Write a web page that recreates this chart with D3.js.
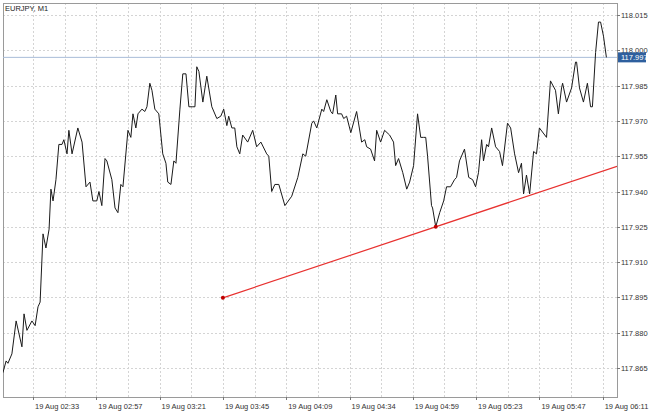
<!DOCTYPE html>
<html>
<head>
<meta charset="utf-8">
<script src="https://cdn.jsdelivr.net/npm/d3@7"></script>
<style>
  body { margin: 0; background: #fff; }
  text { font-family: "Liberation Sans", Arial, sans-serif; }
</style>
</head>
<body>
<div id="chart"></div>
<script>
// minutes counted from 19 Aug 02:33 (bar positions), and close prices
const minutes = [-11.4,-10.2,-9.5,-8.0,-6.4,-4.2,-3.4,-2.3,-0.4,0.8,1.9,2.7,3.8,4.9,6.1,6.8,7.6,8.7,9.8,11.0,11.7,12.9,13.6,14.8,17.0,18.6,20.1,21.6,22.7,24.2,25.0,26.1,27.3,28.0,29.9,31.1,32.2,33.3,34.1,36.0,37.1,37.9,39.0,39.8,41.3,42.4,43.2,44.3,45.1,46.2,47.7,49.2,50.4,51.1,52.3,53.4,54.2,55.7,56.8,58.0,59.1,60.6,61.4,62.1,62.9,64.4,65.9,67.8,69.7,71.2,72.3,73.5,74.2,75.4,76.5,77.3,78.4,79.5,81.4,83.3,84.8,86.4,88.6,89.4,90.5,91.7,93.2,95.5,98.1,100.4,102.3,103.4,105.7,106.4,107.6,109.5,110.2,111.4,112.9,113.6,114.8,115.5,117.0,117.8,118.9,120.5,122.7,124.6,125.8,126.5,128.0,129.5,130.3,131.8,133.3,135.2,136.7,137.5,138.6,140.2,141.7,142.8,144.3,145.8,147.0,148.1,148.9,149.6,151.1,151.5,152.7,154.2,155.7,156.8,158.3,159.8,160.6,161.7,163.6,165.2,166.7,167.8,168.9,170.1,170.8,172.0,172.7,173.9,175.4,176.9,178.0,179.9,181.1,182.6,184.1,185.2,186.0,187.1,188.3,189.8,190.9,192.0,194.7,196.2,198.1,199.2,200.4,200.8,202.3,204.2,205.7,206.1,207.2,208.7,210.2,211.4,212.1,213.3,214.4,215.2,216.3,217.4];
const closes = [117.863,117.868,117.867,117.871,117.885,117.874,117.888,117.881,117.885,117.883,117.891,117.893,117.922,117.916,117.924,117.941,117.936,117.945,117.960,117.960,117.962,117.956,117.966,117.956,117.967,117.961,117.942,117.944,117.936,117.936,117.940,117.934,117.954,117.953,117.945,117.933,117.931,117.943,117.942,117.966,117.963,117.973,117.967,117.973,117.975,117.974,117.976,117.986,117.983,117.975,117.973,117.956,117.952,117.944,117.943,117.953,117.952,117.975,117.990,117.990,117.976,117.976,117.976,117.993,117.991,117.978,117.989,117.976,117.971,117.972,117.975,117.968,117.972,117.967,117.967,117.959,117.956,117.964,117.961,117.966,117.959,117.961,117.956,117.955,117.940,117.943,117.943,117.934,117.938,117.946,117.956,117.955,117.969,117.970,117.967,117.975,117.974,117.979,117.974,117.973,117.981,117.973,117.973,117.971,117.972,117.965,117.974,117.961,117.962,117.959,117.958,117.953,117.966,117.961,117.966,117.964,117.961,117.951,117.954,117.948,117.941,117.944,117.951,117.973,117.963,117.963,117.963,117.955,117.934,117.933,117.925,117.931,117.936,117.942,117.942,117.945,117.946,117.953,117.958,117.946,117.945,117.942,117.948,117.962,117.953,117.960,117.959,117.967,117.959,117.957,117.951,117.969,117.967,117.956,117.948,117.952,117.939,117.947,117.939,117.957,117.956,117.967,117.963,117.987,117.983,117.973,117.984,117.986,117.978,117.984,117.995,117.995,117.984,117.978,117.986,117.976,117.976,117.999,118.012,118.012,118.006,117.997];

const priceTicks = [117.865,117.880,117.895,117.910,117.925,117.940,117.955,117.970,117.985,118.000,118.015];
const timeTicks = [0,24,48,72,96,120,144,168,192,216];
const timeLabels = ["19 Aug 02:33","19 Aug 02:57","19 Aug 03:21","19 Aug 03:45","19 Aug 04:09","19 Aug 04:34","19 Aug 04:59","19 Aug 05:23","19 Aug 05:47","19 Aug 06:11"];
const gridMinutes = d3.range(0, 217, 12);

const trendMinutes = [72.0, 152.7];
const trendPrices = [117.8948, 117.925];
const bid = 117.997;

const W = 650, H = 413;
const pl = 3, pt = 3, pr = 617, pb = 397;

const x = d3.scaleLinear().domain([0, 24]).range([33, 96.3]);
const y = d3.scaleLinear().domain([117.865, 118.015]).range([368, 15]);

const svg = d3.select("#chart").append("svg").attr("width", W).attr("height", H);

svg.append("defs").append("clipPath").attr("id", "plot")
  .append("rect").attr("x", pl).attr("y", pt).attr("width", pr - pl).attr("height", pb - pt);

// grid
svg.append("g").selectAll("line").data(priceTicks).enter().append("line")
  .attr("x1", pl).attr("x2", pr)
  .attr("y1", d => Math.round(y(d)) + 0.5).attr("y2", d => Math.round(y(d)) + 0.5)
  .attr("stroke", "#d4d4d4").attr("stroke-dasharray", "2,2");
svg.append("g").selectAll("line").data(gridMinutes).enter().append("line")
  .attr("x1", d => Math.round(x(d)) + 0.5).attr("x2", d => Math.round(x(d)) + 0.5)
  .attr("y1", pt).attr("y2", pb)
  .attr("stroke", "#d4d4d4").attr("stroke-dasharray", "2,2");

// frame
svg.append("rect").attr("x", pl + 0.5).attr("y", pt + 0.5)
  .attr("width", pr - pl).attr("height", pb - pt)
  .attr("fill", "none").attr("stroke", "#9a9a9a");

// price axis
const ya = svg.append("g");
ya.selectAll("line").data(priceTicks).enter().append("line")
  .attr("x1", pr).attr("x2", pr + 3)
  .attr("y1", d => Math.round(y(d)) + 0.5).attr("y2", d => Math.round(y(d)) + 0.5).attr("stroke", "#777");
ya.selectAll("text").data(priceTicks).enter().append("text")
  .attr("x", pr + 4).attr("y", d => y(d) + 3)
  .attr("font-size", 7.5).attr("fill", "#333")
  .text(d => d.toFixed(3));

// time axis
const xa = svg.append("g");
xa.selectAll("line").data(timeTicks).enter().append("line")
  .attr("x1", d => Math.round(x(d)) + 0.5).attr("x2", d => Math.round(x(d)) + 0.5)
  .attr("y1", pb).attr("y2", pb + 3).attr("stroke", "#777");
xa.selectAll("text").data(timeTicks).enter().append("text")
  .attr("x", d => x(d) + 2).attr("y", pb + 12)
  .attr("font-size", 7.5).attr("fill", "#333")
  .text((d, i) => timeLabels[i]);

const plot = svg.append("g").attr("clip-path", "url(#plot)");

// bid line
plot.append("line").attr("x1", pl).attr("x2", pr)
  .attr("y1", y(bid)).attr("y2", y(bid))
  .attr("stroke", "#a9bcd8").attr("stroke-width", 1);

// price line
const pts = minutes.map((m, i) => [m, closes[i]]);
plot.append("path").datum(pts)
  .attr("fill", "none").attr("stroke", "#1a1a1a").attr("stroke-width", 1)
  .attr("d", d3.line().x(d => x(d[0])).y(d => y(d[1])));

// trend line
const slope = (trendPrices[1] - trendPrices[0]) / (trendMinutes[1] - trendMinutes[0]);
const endM = x.invert(pr);
plot.append("line")
  .attr("x1", x(trendMinutes[0])).attr("y1", y(trendPrices[0]))
  .attr("x2", x(endM)).attr("y2", y(trendPrices[0] + slope * (endM - trendMinutes[0])))
  .attr("stroke", "#e8312f").attr("stroke-width", 1.2);
plot.selectAll("circle").data(trendMinutes).enter().append("circle")
  .attr("cx", d => x(d)).attr("cy", (d, i) => y(trendPrices[i]))
  .attr("r", 2).attr("fill", "#c00000");

// bid label
svg.append("rect").attr("x", pr + 1).attr("y", y(bid) - 5)
  .attr("width", 28).attr("height", 10).attr("fill", "#2e5f9e");
svg.append("text").attr("x", pr + 4).attr("y", y(bid) + 3)
  .attr("font-size", 7.5).attr("fill", "#fff").text(bid.toFixed(3));

// title
svg.append("text").attr("x", 5).attr("y", 11)
  .attr("font-size", 7.5).attr("fill", "#222").text("EURJPY, M1");
</script>
</body>
</html>
